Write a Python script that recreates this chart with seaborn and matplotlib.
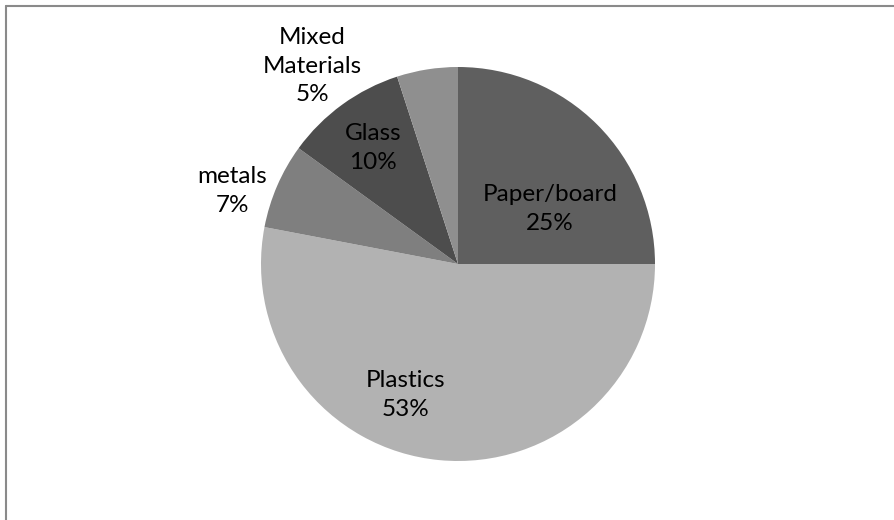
import matplotlib
matplotlib.use("Agg")
import matplotlib.pyplot as plt
import seaborn as sns
from matplotlib.lines import Line2D

categories = ["Paper/board", "Plastics", "metals", "Glass", "Mixed\nMaterials"]
values = [25, 53, 7, 10, 5]
colors = ["#5f5f5f", "#b2b2b2", "#7f7f7f", "#4d4d4d", "#8f8f8f"]
# label centre positions (in pie radius units)
label_pos = [(0.467, 0.279), (-0.264, -0.665), (-1.147, 0.371), (-0.431, 0.589), (-0.741, 1.005)]

sns.set_theme(style="white")
plt.rcParams['font.family'] = ['Lato', 'DejaVu Sans']

fig = plt.figure(figsize=(8.95, 5.2), dpi=100)
ax = fig.add_axes([261/895, 59/520, 394/895, 394/520])
ax.pie(values, colors=colors, startangle=90, counterclock=False,
       wedgeprops=dict(linewidth=0), radius=1)
ax.set_xlim(-1, 1)
ax.set_ylim(-1, 1)
ax.set_aspect('equal')
ax.axis('off')

for cat, v, (x, y) in zip(categories, values, label_pos):
    ax.text(x, y, f"{cat}\n{v}%", ha='center', va='center', fontsize=17.5,
            color='black', linespacing=1.45, multialignment='center')

fig.add_artist(Line2D([6/895, 1], [1 - 5.5/520, 1 - 5.5/520], transform=fig.transFigure,
                      color='#8a8a8a', linewidth=1.5))
fig.add_artist(Line2D([6.5/895, 6.5/895], [0, 1 - 5.5/520], transform=fig.transFigure,
                      color='#8a8a8a', linewidth=1.5))

fig.savefig("out.png", dpi=100)
